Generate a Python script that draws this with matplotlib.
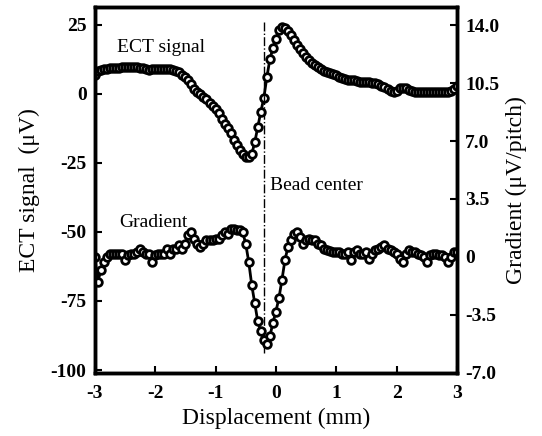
import numpy as np
import matplotlib
matplotlib.use("Agg")
import matplotlib.pyplot as plt

plt.rcParams["font.family"] = ["Liberation Serif", "DejaVu Serif"]
plt.rcParams["axes.unicode_minus"] = False

# displacement grid (mm), 0.05 mm steps
displacement = np.round(np.arange(-3.0, 3.0001, 0.05), 2)

# ECT signal (uV), left axis
ect_signal = [
    7.0, 8.3, 8.8, 9.0, 9.2, 9.3, 9.4, 9.4, 9.5, 9.6,
    9.7, 9.9, 9.9, 9.8, 9.6, 9.5, 9.3, 9.2, 8.6, 9.0,
    9.2, 9.2, 9.2, 9.1, 9.0, 8.9, 8.7, 8.3, 7.8, 7.0,
    6.0, 5.0, 3.6, 1.8, 0.6, -0.2, -1.0, -2.0, -3.3, -4.3,
    -5.5, -7.0, -9.0, -10.8, -12.5, -14.3, -16.8, -18.5, -20.2, -21.8,
    -22.8, -23.0, -21.8, -17.5, -12.0, -6.5, -1.5, 6.0, 12.5, 16.5,
    20.0, 23.0, 24.2, 24.0, 22.8, 21.2, 19.5, 17.8, 16.2, 14.8,
    13.5, 12.2, 11.2, 10.4, 9.6, 8.9, 8.4, 8.0, 7.6, 7.3,
    6.8, 6.2, 5.8, 5.5, 5.2, 5.0, 4.9, 4.7, 4.5, 4.4,
    4.3, 4.2, 4.0, 3.8, 3.5, 3.0, 2.5, 1.8, 1.2, 0.8,
    1.2, 2.0, 2.3, 2.2, 1.6, 1.0, 0.8, 0.8, 0.8, 0.8,
    0.8, 0.8, 0.8, 0.8, 0.8, 0.8, 0.8, 0.8, 1.2, 1.8,
    3.0,
]

# gradient (uV/pitch), right axis
gradient = [
    0.0, -1.5, -0.8, -0.3, 0.0, 0.2, 0.2, 0.2, 0.2, 0.2,
    -0.2, 0.1, 0.2, 0.2, 0.3, 0.45, 0.3, 0.2, 0.2, -0.3,
    0.1, 0.2, 0.2, 0.2, 0.5, 0.2, 0.5, 0.5, 0.7, 0.5,
    0.8, 1.3, 1.5, 1.1, 0.8, 0.6, 0.8, 1.0, 1.0, 1.0,
    1.1, 1.1, 1.3, 1.5, 1.4, 1.7, 1.7, 1.6, 1.6, 1.5,
    0.8, -0.3, -1.7, -2.8, -3.9, -4.5, -5.0, -5.25, -4.8, -4.0,
    -3.3, -2.5, -1.4, -0.2, 0.6, 1.0, 1.4, 1.5, 1.2, 0.8,
    1.0, 1.1, 1.0, 1.0, 0.8, 0.7, 0.5, 0.4, 0.35, 0.3,
    0.3, 0.3, 0.2, 0.2, 0.3, -0.2, 0.3, 0.4, 0.2, 0.2,
    0.3, -0.1, 0.2, 0.4, 0.5, 0.6, 0.7, 0.5, 0.4, 0.3,
    0.2, -0.1, -0.3, 0.2, 0.4, 0.3, 0.3, 0.2, 0.1, 0.0,
    -0.3, 0.1, 0.2, 0.2, 0.1, 0.1, 0.0, -0.3, 0.0, 0.3,
    0.3,
]

left_ticks = [25, 0, -25, -50, -75, -100]
right_ticks = [14.0, 10.5, 7.0, 3.5, 0.0, -3.5, -7.0]
right_labels = ["14.0", "10.5", "7.0", "3.5", "0", "-3.5", "-7.0"]
x_ticks = [-3, -2, -1, 0, 1, 2, 3]

bead_center = -0.2
bead_line_span = (26, -94)

fig = plt.figure(figsize=(5.42, 4.36), dpi=100)
ax = fig.add_axes([0.175, 0.145, 0.668, 0.839])
ax2 = ax.twinx()

marker_style = dict(marker="o", markersize=5.5, markerfacecolor="white",
                    markeredgecolor="black", markeredgewidth=2.0,
                    color="black", linewidth=2.0)

ax.plot(displacement, ect_signal, **marker_style)
ax2.plot(displacement, gradient, **marker_style)
ax.plot([bead_center, bead_center], bead_line_span, color="black",
        linewidth=1.0, linestyle="-.")

ax.set_xlim(-3, 3)
ax.set_ylim(-101, 31.5)
ax2.set_ylim(-7.0, 15.1)

ax.set_xticks(x_ticks)
ax.set_xticklabels([str(t) for t in x_ticks])
ax.set_yticks(left_ticks)
ax.set_yticklabels([str(t) for t in left_ticks])
ax2.set_yticks(right_ticks)
ax2.set_yticklabels(right_labels)

for a in (ax, ax2):
    for s in a.spines.values():
        s.set_linewidth(2.5)
    a.tick_params(direction="in", length=5, width=1.5, labelsize=14)
    for lab in a.get_xticklabels() + a.get_yticklabels():
        lab.set_fontweight("bold")
ax.tick_params(axis="x", pad=9)
ax.tick_params(axis="y", pad=6)
ax2.tick_params(axis="y", pad=6)

ax.set_xlabel("Displacement (mm)", fontsize=17, labelpad=4)
ax.set_ylabel("ECT signal  (\u03bcV)", fontsize=17, labelpad=8)
ax2.set_ylabel("Gradient (\u03bcV/pitch)", fontsize=17, labelpad=5)

ax.text(-2.64, 17, "ECT signal", fontsize=14, va="center", ha="left")
ax.text(-2.6, -46.6, "Gradient", fontsize=14, va="center", ha="left")
ax.text(-0.1, -33, "Bead center", fontsize=14, va="center", ha="left")

fig.savefig("out.png", dpi=100)
